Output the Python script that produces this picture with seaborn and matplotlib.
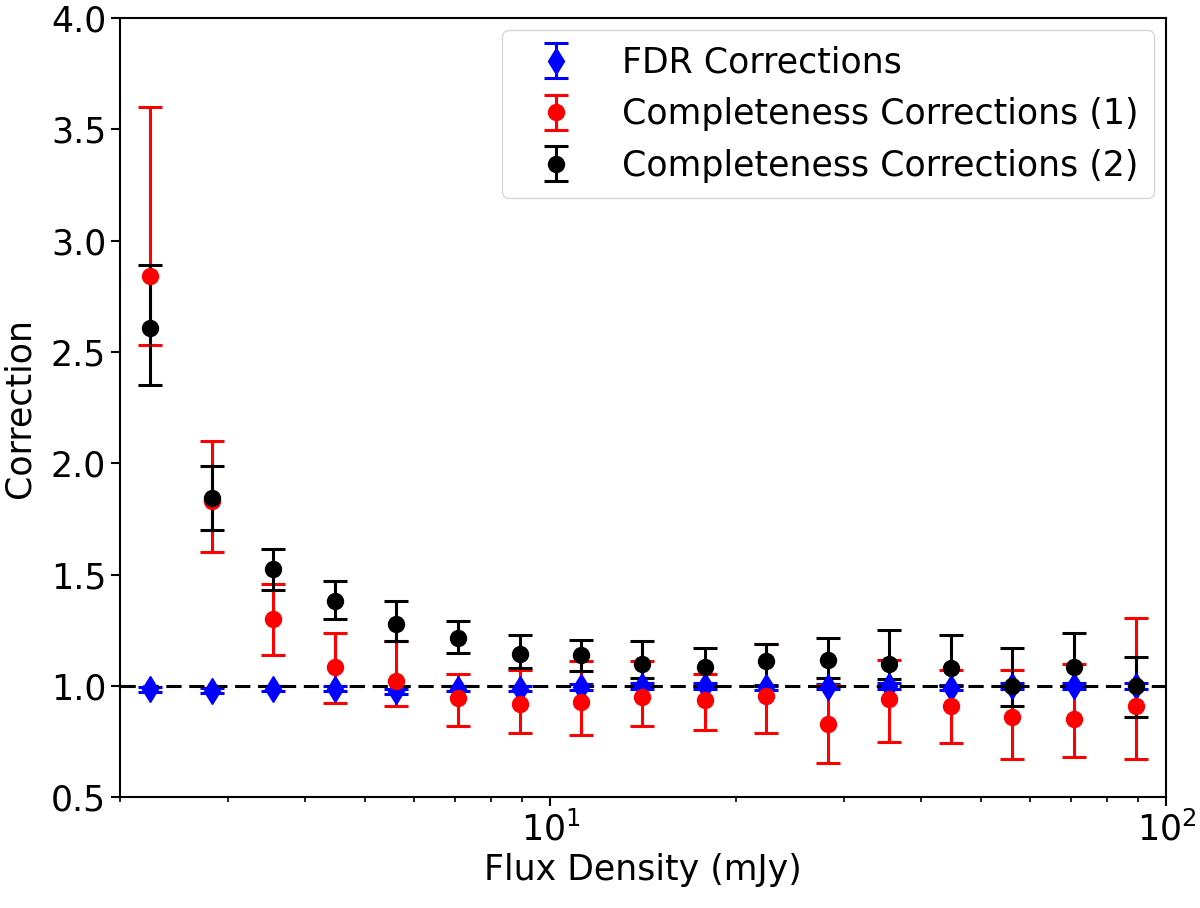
import numpy as np
import matplotlib
matplotlib.use("Agg")
import matplotlib.pyplot as plt
import seaborn as sns

# bin centres (mJy), 0.1 dex bins from 2 to 100 mJy
flux = [2.24, 2.82, 3.55, 4.47, 5.62, 7.08, 8.91, 11.2, 14.1, 17.8,
        22.4, 28.2, 35.5, 44.7, 56.2, 70.8, 89.1]

# FDR corrections
fdr = [0.985, 0.978, 0.988, 0.988, 0.975, 0.988, 0.988, 0.995, 1.0, 1.0,
       0.993, 0.997, 1.0, 0.992, 1.0, 1.0, 1.0]
fdr_err = [0.012, 0.012, 0.012, 0.012, 0.012, 0.012, 0.012, 0.012, 0.012, 0.012,
           0.012, 0.012, 0.012, 0.012, 0.012, 0.012, 0.012]

# completeness corrections (1)
comp1 = [2.84, 1.83, 1.30, 1.085, 1.02, 0.945, 0.92, 0.93, 0.95, 0.935,
         0.955, 0.83, 0.94, 0.91, 0.86, 0.85, 0.91]
comp1_lo = [2.53, 1.60, 1.14, 0.925, 0.91, 0.82, 0.79, 0.78, 0.82, 0.80,
            0.79, 0.655, 0.75, 0.745, 0.67, 0.68, 0.67]
comp1_hi = [3.60, 2.10, 1.46, 1.24, 1.20, 1.055, 1.07, 1.11, 1.11, 1.055,
            1.19, 1.005, 1.115, 1.07, 1.07, 1.10, 1.305]

# completeness corrections (2)
comp2 = [2.61, 1.845, 1.525, 1.38, 1.28, 1.215, 1.145, 1.14, 1.10, 1.085,
         1.11, 1.115, 1.10, 1.08, 1.00, 1.085, 1.00]
comp2_lo = [2.35, 1.70, 1.43, 1.30, 1.20, 1.15, 1.08, 1.065, 1.035, 1.00,
            1.00, 1.035, 1.03, 1.00, 0.91, 1.00, 0.86]
comp2_hi = [2.89, 1.99, 1.615, 1.47, 1.38, 1.29, 1.23, 1.205, 1.20, 1.17,
            1.19, 1.215, 1.25, 1.23, 1.17, 1.24, 1.13]

sns.set_style("ticks", {"axes.edgecolor": "black", "xtick.color": "black",
                        "ytick.color": "black", "axes.labelcolor": "black",
                        "text.color": "black"})
plt.rcParams["font.family"] = ["DejaVu Sans"]
plt.rcParams["font.size"] = 25
plt.rcParams["axes.linewidth"] = 1.5

fig, ax = plt.subplots(figsize=(12, 9.08), dpi=100)
fig.subplots_adjust(left=0.1, right=0.972, top=0.980, bottom=0.122)


def asym(val, lo, hi):
    val = np.asarray(val)
    return [val - np.asarray(lo), np.asarray(hi) - val]


eb = dict(elinewidth=2.2, capsize=8.6, capthick=2.2, linestyle="none")
ax.errorbar(flux, fdr, yerr=fdr_err, fmt="d", color="blue", ms=13.5,
            label="FDR Corrections", **eb)
ax.errorbar(flux, comp1, yerr=asym(comp1, comp1_lo, comp1_hi), fmt="o",
            color="red", ms=11.5, label="Completeness Corrections (1)", **eb)
ax.errorbar(flux, comp2, yerr=asym(comp2, comp2_lo, comp2_hi), fmt="o",
            color="black", ms=11.5, label="Completeness Corrections (2)", **eb)
ax.axhline(1.0, color="black", lw=2.2, ls=(0, (5, 2.5)))

ax.set_xscale("log")
ax.set_xlim(2, 100)
ax.set_ylim(0.5, 4.0)
ax.set_xlabel("Flux Density (mJy)")
ax.set_ylabel("Correction", labelpad=10)
ax.tick_params(which="major", length=6.5, width=1.5, labelsize=25)
ax.tick_params(which="minor", length=3.7, width=1.2)

ax.legend(loc="upper right", fontsize=25, frameon=True, borderpad=0.45,
          handlelength=2.2, borderaxespad=0.35)

fig.savefig("out.png", dpi=100)
